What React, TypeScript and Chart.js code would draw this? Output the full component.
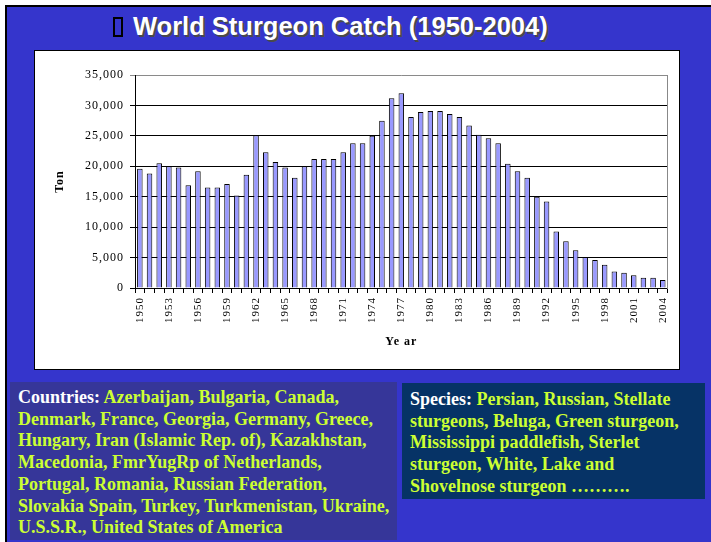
import { useEffect, useRef } from "react";
import { Chart, registerables } from "chart.js";

Chart.register(...registerables);

const years = [
  "1950", "1951", "1952", "1953", "1954", "1955", "1956", "1957", "1958", "1959",
  "1960", "1961", "1962", "1963", "1964", "1965", "1966", "1967", "1968", "1969",
  "1970", "1971", "1972", "1973", "1974", "1975", "1976", "1977", "1978", "1979",
  "1980", "1981", "1982", "1983", "1984", "1985", "1986", "1987", "1988", "1989",
  "1990", "1991", "1992", "1993", "1994", "1995", "1996", "1997", "1998", "1999",
  "2000", "2001", "2002", "2003", "2004",
];

const catchTons = [
  19600, 18800, 20500, 20000, 19800, 16900, 19200, 16500, 16500, 17100,
  15200, 18600, 25100, 22300, 20700, 19800, 18100, 20000, 21200, 21200,
  21200, 22300, 23800, 23800, 25000, 27500, 31200, 32000, 28100, 28900,
  29100, 29100, 28600, 28100, 26700, 25200, 24600, 23800, 20400, 19200,
  18100, 15000, 14200, 9300, 7700, 6200, 5100, 4600, 3800, 2700,
  2500, 2100, 1700, 1700, 1300,
];

const yTickStep = 5000;
const yMax = 35000;

const titleText = "World Sturgeon Catch (1950-2004)";
const countriesLines = [
  "Azerbaijan, Bulgaria, Canada,",
  "Denmark, France, Georgia, Germany, Greece,",
  "Hungary, Iran (Islamic Rep. of), Kazakhstan,",
  "Macedonia, FmrYugRp of Netherlands,",
  "Portugal, Romania, Russian Federation,",
  "Slovakia Spain, Turkey, Turkmenistan, Ukraine,",
  "U.S.S.R., United States of America",
];
const speciesLines = [
  "Persian, Russian, Stellate",
  "sturgeons, Beluga, Green sturgeon,",
  "Mississippi paddlefish, Sterlet",
  "sturgeon, White, Lake and",
  "Shovelnose sturgeon \u2026\u2026\u2026.",
];

const serif = "'Liberation Serif', 'Times New Roman', serif";
const textColor = "#CCFF33";

export default function App() {
  const canvasRef = useRef<HTMLCanvasElement | null>(null);

  useEffect(() => {
    if (!canvasRef.current) return;
    const spacingPlugin = {
      id: "spacing",
      beforeDraw(chart: any) {
        try {
          chart.ctx.letterSpacing = "1px";
        } catch (e) {}
      },
    };
    const chart = new Chart(canvasRef.current, {
      type: "bar",
      data: {
        labels: years,
        datasets: [
          {
            data: catchTons,
            backgroundColor: "#9999FF",
            borderColor: "#000000",
            borderWidth: 1,
            barPercentage: 0.57,
            categoryPercentage: 1,
          },
        ],
      },
      plugins: [spacingPlugin],
      options: {
        animation: false,
        responsive: false,
        layout: { padding: { top: 25, right: 3, left: 0, bottom: 0 } },
        plugins: {
          legend: { display: false },
          tooltip: { enabled: false },
        },
        scales: {
          x: {
            grid: {
              display: true,
              drawOnChartArea: false,
              drawTicks: true,
              tickLength: 5,
              color: "#000",
              offset: true,
            },
            border: { color: "#000", width: 1 },
            ticks: {
              autoSkip: false,
              minRotation: 90,
              maxRotation: 90,
              padding: 4,
              color: "#000",
              font: { family: serif, size: 11 },
              callback: (_v: any, i: number) => (i % 3 === 0 ? years[i] : ""),
            },
            title: {
              display: true,
              text: "Ye ar",
              color: "#000",
              font: { family: serif, size: 12, weight: "bold" },
              padding: { top: 0, bottom: 21 },
            },
            afterFit: (s: any) => {
              s.height = 82;
            },
          },
          y: {
            min: 0,
            max: yMax,
            grid: {
              color: (ctx: any) => (ctx.tick && ctx.tick.value === yMax ? "#8a8a8a" : "#000"),
              tickLength: 5,
              lineWidth: 1,
            },
            border: { color: "#000", width: 1 },
            ticks: {
              stepSize: yTickStep,
              padding: 6,
              color: "#000",
              font: { family: serif, size: 12 },
              callback: (v: any) => Number(v).toLocaleString("en-US"),
            },
            title: {
              display: true,
              text: "Ton",
              color: "#000",
              font: { family: serif, size: 12, weight: "bold" },
              padding: { top: 19, bottom: 0 },
            },
            afterFit: (s: any) => {
              s.width = 101;
            },
          },
          y1: {
            position: "right",
            display: true,
            grid: { drawOnChartArea: false, drawTicks: false },
            border: { color: "#888", width: 1 },
            ticks: { display: false },
            afterFit: (s: any) => {
              s.width = 0;
            },
          },
        },
      },
    } as any);
    return () => chart.destroy();
  }, []);

  const boxText: React.CSSProperties = {
    fontFamily: serif,
    fontWeight: "bold",
    fontSize: 18,
    lineHeight: "21.7px",
    color: textColor,
    whiteSpace: "nowrap",
  };

  return (
    <div
      style={{
        position: "fixed",
        left: 0,
        top: 0,
        width: 711,
        height: 542,
        background: "#ffffff",
        overflow: "hidden",
      }}
    >
      <div
        style={{
          position: "absolute",
          left: 5,
          top: 5,
          right: 0,
          bottom: 0,
          background: "#3535CC",
          borderLeft: "2px solid #000",
          borderTop: "2px solid #000",
        }}
      />
      <div
        style={{
          position: "absolute",
          left: 113,
          top: 8,
          height: 36,
          lineHeight: "36px",
          fontFamily: "'Liberation Sans', Arial, sans-serif",
          fontWeight: "bold",
          fontSize: 25.5,
          color: "#ffffff",
          textShadow: "2px 2px 0 #4a4a4a",
          whiteSpace: "nowrap",
        }}
      >
        <span
          style={{
            display: "inline-block",
            width: 6,
            height: 16,
            border: "2px solid #000",
            verticalAlign: "-2px",
            marginRight: 10,
          }}
        />
        {titleText}
      </div>
      <div
        style={{
          position: "absolute",
          left: 34,
          top: 50,
          width: 646,
          height: 320,
          background: "#ffffff",
          border: "1px solid #000",
          boxSizing: "border-box",
        }}
      />
      <canvas
        ref={canvasRef}
        width={646}
        height={320}
        style={{ position: "absolute", left: 34, top: 50, width: 646, height: 320 }}
      />
      <div
        style={{
          position: "absolute",
          left: 10,
          top: 382,
          width: 387,
          height: 158,
          background: "#363699",
          boxSizing: "border-box",
          padding: "5px 0 0 8px",
          ...boxText,
        }}
      >
        {countriesLines.map((l, i) => (
          <div key={i}>
            {i === 0 ? <span style={{ color: "#ffffff" }}>Countries: </span> : null}
            {l}
          </div>
        ))}
      </div>
      <div
        style={{
          position: "absolute",
          left: 402,
          top: 383,
          width: 303,
          height: 116,
          background: "#063366",
          boxSizing: "border-box",
          padding: "6px 0 0 8px",
          ...boxText,
        }}
      >
        {speciesLines.map((l, i) => (
          <div key={i}>
            {i === 0 ? <span style={{ color: "#ffffff" }}>Species: </span> : null}
            {l}
          </div>
        ))}
      </div>
    </div>
  );
}
